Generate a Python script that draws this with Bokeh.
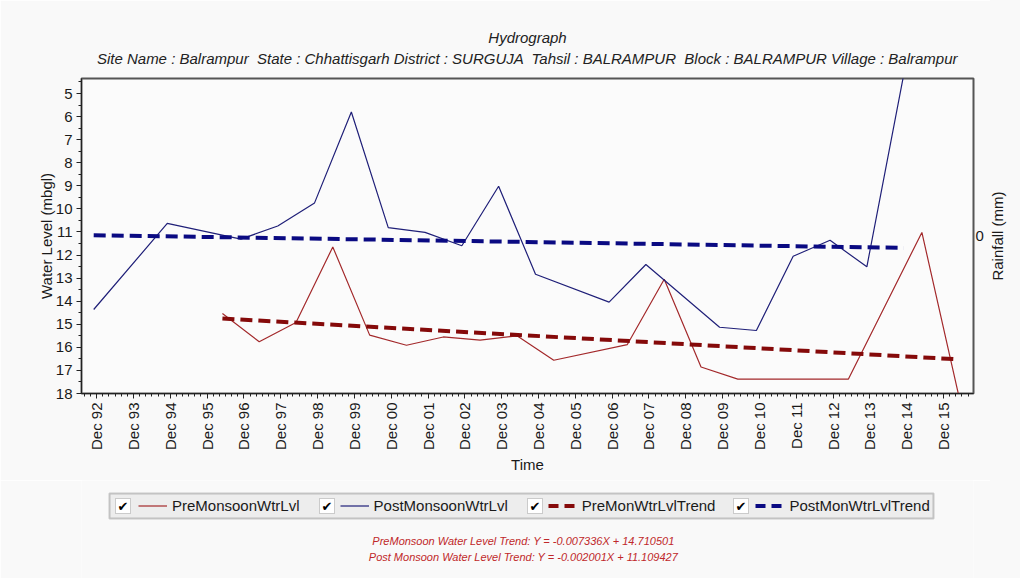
import math
import pandas as pd
from bokeh.plotting import figure
from bokeh.layouts import column, row
from bokeh.models import (Range1d, LinearAxis, FixedTicker, DatetimeTickFormatter,
                          Legend, LegendItem, Title, Label, BoxAnnotation, Div)
from bokeh.embed import file_html
from bokeh.resources import INLINE

# ---------------- data ----------------
pre_dates = ["1996-05-01", "1997-05-01", "1998-05-01", "1999-05-01", "2000-05-01",
             "2001-05-01", "2002-05-01", "2003-05-01", "2004-05-01", "2005-05-01",
             "2007-05-01", "2008-05-01", "2009-05-01", "2010-05-01", "2011-05-01",
             "2012-05-01", "2013-05-01", "2015-05-01", "2016-05-01"]
pre_levels = [14.53, 15.76, 14.92, 11.65, 15.47,
              15.91, 15.55, 15.69, 15.50, 16.56,
              15.88, 13.05, 16.85, 17.38, 17.38,
              17.38, 17.38, 11.02, 18.10]

post_dates = ["1992-11-01", "1994-11-01", "1996-11-01", "1997-11-01", "1998-11-01",
              "1999-11-01", "2000-11-01", "2001-11-01", "2002-11-01", "2003-11-01",
              "2004-11-01", "2006-11-01", "2007-11-01", "2009-11-01", "2010-11-01",
              "2011-11-01", "2012-11-01", "2013-11-01", "2014-11-01"]
post_levels = [14.36, 10.63, 11.31, 10.74, 9.74,
               5.80, 10.81, 11.02, 11.60, 9.02,
               12.83, 14.04, 12.41, 15.13, 15.27,
               12.05, 11.36, 12.51, 4.20]

pre_trend_dates = ["1996-05-01", "2016-03-15"]
pre_trend_levels = [14.75, 16.51]
post_trend_dates = ["1992-11-01", "2014-11-01"]
post_trend_levels = [11.14, 11.69]

tick_years = list(range(1992, 2016))          # "Dec 92" ... "Dec 15"
y_ticks = list(range(5, 19))
rain_ticks = [0]

series_names = ["PreMonsoonWtrLvl", "PostMonsoonWtrLvl", "PreMonWtrLvlTrend", "PostMonWtrLvlTrend"]
title_text = "Hydrograph"
subtitle_text = ("Site Name : Balrampur \u00a0State : Chhattisgarh District : SURGUJA \u00a0"
                 "Tahsil : BALRAMPUR \u00a0Block : BALRAMPUR Village : Balrampur")
rain_axis_label = "Rainfall (mm)"
trend_note_pre = "PreMonsoon Water Level Trend: Y = -0.007336X + 14.710501"
trend_note_post = "Post Monsoon Water Level Trend: Y = -0.002001X + 11.109427"

# ---------------- helpers ----------------
def to_dt(lst):
    return [pd.Timestamp(s) for s in lst]

def ms(ts):
    return pd.Timestamp(ts).value / 1e6

FONT = "Liberation Sans"
FS = "15px"
TXT = "#1A1A1A"
BG = "#F9F9F9"
PRE_COLOR = "#A3292B"
POST_COLOR = "#1F1F78"
PRE_TREND = "#850A0A"
POST_TREND = "#0A0A82"
W = 990                  # chart column width; a 30px strip on the right holds the rainfall title
BL, BR = 81, 17          # left / right borders (shared by both stacked figures)

# ================= main chart =================
p = figure(width=W, height=480,
           x_axis_type="datetime",
           x_range=Range1d(pd.Timestamp("1992-07-03"), pd.Timestamp("2016-09-24")),
           y_range=Range1d(18, 4.35),
           output_backend="svg", toolbar_location=None,
           min_border_left=BL, min_border_right=BR, min_border_top=78, min_border_bottom=87,
           background_fill_color="#FBFBFB", border_fill_color=BG)

p.outline_line_color = "#555555"
p.outline_line_width = 2
p.xgrid.visible = False
p.ygrid.visible = False

# x axis
major = [ms(f"{y}-12-01") for y in tick_years]
minor = [ms(f"1992-{m:02d}-01") for m in (8, 10)]
for y in tick_years:
    for m in (2, 4, 6, 8, 10):
        t = ms(f"{y + 1}-{m:02d}-01")
        if t < ms("2016-09-24"):
            minor.append(t)
p.xaxis.ticker = FixedTicker(ticks=major, minor_ticks=minor)
fmt = "%b %y"
p.xaxis.formatter = DatetimeTickFormatter(years=fmt, months=fmt, days=fmt, hours=fmt,
                                          minutes=fmt, seconds=fmt, milliseconds=fmt,
                                          microseconds=fmt, minsec=fmt, hourmin=fmt)
p.xaxis.major_label_orientation = math.pi / 2
p.xaxis.axis_label = "Time"

# y axis
y_minor = [v + 0.5 for v in y_ticks[:-1]] + [4.5]
p.yaxis.ticker = FixedTicker(ticks=y_ticks, minor_ticks=y_minor)
p.yaxis.axis_label = "Water Level (mbgl)"

for ax in (p.xaxis[0], p.yaxis[0]):
    ax.major_label_text_font = FONT
    ax.major_label_text_font_size = FS
    ax.major_label_text_color = TXT
    ax.axis_label_text_font = FONT
    ax.axis_label_text_font_size = FS
    ax.axis_label_text_font_style = "normal"
    ax.axis_label_text_color = TXT
    ax.axis_line_color = "#222222"
    ax.major_tick_line_color = "#222222"
    ax.minor_tick_line_color = "#222222"
    ax.major_tick_out = 5
    ax.major_tick_in = 0
    ax.minor_tick_out = 3
    ax.minor_tick_in = 0
    ax.major_label_standoff = 4
p.xaxis.axis_label_standoff = 3
p.yaxis.axis_label_standoff = -2

# right rainfall axis (tick "0" only; its title sits in the strip on the right)
p.extra_y_ranges = {"rain": Range1d(-1, 1)}
rax = LinearAxis(y_range_name="rain", ticker=FixedTicker(ticks=rain_ticks))
rax.major_label_text_font = FONT
rax.major_label_text_font_size = FS
rax.major_label_text_color = TXT
rax.axis_line_color = None
rax.major_tick_out = 0
rax.major_tick_in = 0
rax.minor_tick_out = 0
rax.minor_tick_in = 0
rax.major_label_standoff = 2
p.add_layout(rax, "right")

# series
r_pre = p.line(to_dt(pre_dates), pre_levels, line_color=PRE_COLOR, line_width=1.2)
r_post = p.line(to_dt(post_dates), post_levels, line_color=POST_COLOR, line_width=1.2)
r_pre_t = p.line(to_dt(pre_trend_dates), pre_trend_levels, line_color=PRE_TREND,
                 line_width=4, line_dash="12 6")
r_post_t = p.line(to_dt(post_trend_dates), post_trend_levels, line_color=POST_TREND,
                  line_width=4, line_dash="12 6")

sub = Title(text=subtitle_text, align="center", text_font=FONT, text_font_size=FS,
            text_font_style="italic", text_color="#222222", standoff=23)
p.add_layout(sub, "above")
ttl = Title(text=title_text, align="center", text_font=FONT, text_font_size=FS,
            text_font_style="italic", text_color="#222222", standoff=-18)
p.add_layout(ttl, "above")

# ================= legend + trend notes strip =================
# x range equals page pixels (frame is aligned with the main chart's frame)
H2 = 98
q = figure(width=W, height=H2, x_range=Range1d(BL, W - BR), y_range=Range1d(0, H2),
           output_backend="svg", toolbar_location=None,
           min_border_left=BL, min_border_right=BR, min_border_top=0, min_border_bottom=0,
           background_fill_color=BG, border_fill_color=BG)
q.axis.visible = False
q.xgrid.visible = False
q.ygrid.visible = False
q.outline_line_color = None

# legend frame
q.add_layout(BoxAnnotation(left=109, right=933, bottom=60, top=85,
                           fill_color="#EDEDED", fill_alpha=1,
                           line_color="#555555", line_width=2))

styles = [dict(line_color=PRE_COLOR, line_width=1.2),
          dict(line_color=POST_COLOR, line_width=1.2),
          dict(line_color=PRE_TREND, line_width=4, line_dash="10 6"),
          dict(line_color=POST_TREND, line_width=4, line_dash="10 6")]
# legend proxies: placed below the strip's visible range
proxies = [q.line(x=[BL, BL + 1], y=[-50, -50], **st) for st in styles]

legend = Legend(items=[LegendItem(label=n, renderers=[r]) for n, r in zip(series_names, proxies)],
                orientation="horizontal", location=(138 - BL, 64))
legend.label_text_font = FONT
legend.label_text_font_size = FS
legend.label_text_color = TXT
legend.label_height = 15
legend.glyph_width = 29
legend.glyph_height = 15
legend.label_standoff = 5
legend.spacing = 40
legend.padding = 0
legend.margin = 0
legend.border_line_color = None
legend.background_fill_alpha = 0
q.add_layout(legend)

# check boxes in front of every legend entry
for bx in (115, 319, 527, 733):
    q.add_layout(BoxAnnotation(left=bx, right=bx + 15, bottom=65, top=80,
                               fill_color="white", fill_alpha=1,
                               line_color="#666666", line_width=1))
    q.add_layout(Label(x=bx + 7.5, y=72, text="\u2714", text_align="center",
                       text_baseline="middle", text_font="DejaVu Sans",
                       text_font_size="13px", text_color="black"))

for txt, yy in ((trend_note_pre, 38), (trend_note_post, 22)):
    q.add_layout(Label(x=523, y=yy, text=txt, text_align="center", text_baseline="middle",
                       text_font=FONT, text_font_size="11px", text_font_style="italic",
                       text_color="#C0282A"))

# ================= right strip: rainfall axis title (reads bottom-to-top) =================
rain_div = Div(
    text=(f'<div style="width:120px;height:18px;line-height:18px;margin-top:227px;'
          f'margin-left:-52px;transform:rotate(-90deg);text-align:center;white-space:nowrap;'
          f"font-family:'Liberation Sans';font-size:15px;color:{TXT}\">{rain_axis_label}</div>"),
    width=30, height=480 + H2, margin=0,
    styles={"background-color": BG, "overflow": "visible"})

layout = row(column(p, q, spacing=0), rain_div, spacing=0)
open("out.html", "w").write(file_html(layout, INLINE))
